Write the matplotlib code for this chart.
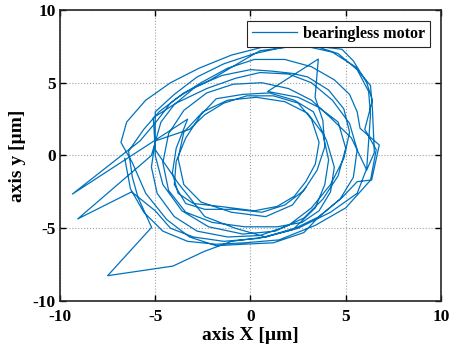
import matplotlib.pyplot as plt

# orbit of the rotor centre (um)
x_um = [
    -6.6, -6.3, -5.6, -4.6, -3.3, -1.8, -0.3, 1.5, 3.4, 5.0, 6.3, 6.6, 6.0, 6.4, 6.1, 5.4, 4.8, 3.5, 2.2, 0.5, -0.3, -2.1, -3.5, -4.2, -4.9, -5.8,
    -9.35, -3.3,
    -3.9, -4.1, -3.8, -3.0, -1.6, 0.2, 1.4, 2.3, 2.9, 3.4, 3.6, 3.2, 2.5, 1.2, -0.2, -1.4, -2.4, -3.2,
    -5.0, -5.2, -4.9, -4.0, -2.8, -1.2, 0.5, 2.0, 3.2, 4.2, 4.9, 5.2, 4.9, 4.1, 3.0, 2.15, 1.1, 0.0, -1.5, -2.9, -4.0, -4.7,
    -5.2, -9.07, -6.24,
    -5.0, -4.2, -3.0, -1.4, 0.4, 2.2, 3.6, 4.8, 5.6, 6.36, 6.76, 5.75, 5.6, 5.2, 4.4, 3.2, 1.8, 0.2, -1.2, -2.6, -3.8, -4.8, -5.6,
    -6.4, -6.2, -5.9, -5.19, -7.5, -4.07, -2.44, -1.0, 0.8, 2.5, 4.2, 5.6, 6.1, 6.2, 6.3, 6.2, 5.6, 4.6, 3.2, 1.6, 0.2, -1.4, -2.8, -4.0, -5.0,
    -5.0, -4.6, -3.6, -2.2, -0.4, 1.3, 2.8, 3.8, 4.6, 5.0, 4.6, 3.6, 2.5, 0.9, 3.56, 3.39,
    3.8, 3.9, 3.5, 2.8, 1.8, 0.6, -0.8, -2.4, -3.4, -4.0, -3.9, -3.4, -2.6, -1.8, -0.4, 1.0, 2.3, 3.3,
    4.0, 4.4, 4.2, 3.6, 2.7, 1.4, -0.3, -2.0, -3.4, -4.3, -4.6, -4.3, -3.5, -2.3, -0.9, 0.6, 2.0, 3.2,
    4.2, 5.3, 6.1, 6.5, 6.4, 6.3, 5.5, 4.3, 2.6, 0.8, -1.0, -2.7, -4.2, -5.5, -6.5, -6.8, -6.2, -5.5, -4.4, -3.2, -1.8, -0.4, 1.2, 2.8,
    3.6, 4.7, 5.4, 5.6, 5.2, 4.3, 3.2, 2.0, 0.5, -0.8, -2.3, -3.9, -5.1, -5.0, -3.8, -2.4, -0.8, 0.8, 2.3,
    3.4, 3.9, 4.1, 3.8, 3.0, 1.8, 0.3, -1.2, -2.5, -3.5, -3.8, -3.5, -2.6, -1.0, 0.8, 2.2, 2.9,
]
y_um = [
    -0.2, -2.3, -3.9, -5.2, -5.9, -6.1, -6.0, -5.8, -4.8, -3.6, -1.7, 0.4, 1.8, 3.8, 5.0, 6.5, 7.3, 7.5, 7.5, 7.2, 6.6, 5.2, 4.3, 3.6, 2.4, 1.0,
    -2.65, 2.5,
    0.5, -1.2, -2.6, -3.3, -3.5, -3.8, -3.5, -2.8, -1.8, -0.6, 0.9, 2.5, 3.6, 4.1, 4.1, 3.6, 2.8, 1.8,
    1.0, -0.8, -2.6, -4.2, -5.2, -5.6, -5.5, -4.8, -3.6, -2.0, -0.2, 1.6, 3.2, 4.5, 5.4, 5.65, 5.8, 5.9, 5.5, 4.7, 3.5, 2.3,
    0.0, -4.36, -2.5,
    -3.8, -5.0, -5.6, -5.9, -5.7, -5.1, -4.2, -2.9, -1.8, -1.68, 0.72, 1.87, 3.0, 4.2, 5.2, 6.1, 6.6, 6.6, 6.0, 5.0, 4.0, 3.0, 1.8,
    0.3, -1.5, -2.9, -4.94, -8.26, -7.6, -6.6, -5.9, -5.6, -5.0, -3.9, -2.6, -0.9, 1.0, 2.8, 4.4, 5.9, 7.0, 7.6, 7.4, 7.0, 6.3, 5.4, 4.2, 3.0,
    0.0, -2.0, -3.8, -4.9, -5.4, -5.2, -4.3, -3.0, -1.4, 0.5, 2.3, 3.3, 4.0, 4.4, 6.63, 4.0,
    2.4, 0.6, -1.0, -2.4, -3.4, -3.9, -3.7, -3.7, -3.3, -2.0, -0.4, 1.2, 2.8, 3.9, 4.2, 4.3, 3.8, 3.0,
    1.0, -0.8, -2.5, -3.8, -4.6, -4.9, -4.9, -4.6, -3.9, -2.4, -0.5, 1.5, 3.1, 4.3, 4.9, 5.0, 4.6, 3.8,
    2.6, 1.2, -1.0, 0.2, 3.2, 4.8, 6.1, 7.1, 7.6, 7.5, 6.9, 6.0, 5.0, 3.8, 2.3, 0.9, -0.5, -2.6, -4.4, -5.6, -6.2, -6.1, -6.0, -5.3,
    -4.2, -3.0, -1.5, 0.4, 2.2, 3.8, 5.0, 5.6, 5.7, 5.3, 4.6, 3.6, 2.6, 0.4, -1.9, -4.2, -5.0, -5.6, -5.0,
    -3.6, -2.0, -0.3, 1.5, 2.9, 3.7, 4.0, 3.8, 3.0, 1.6, -0.2, -2.0, -3.2, -3.9, -4.2, -3.4, -2.2,
]

x_ticks = [-10, -5, 0, 5, 10]
y_ticks = [-10, -5, 0, 5, 10]

plt.rcParams['font.family'] = 'Liberation Serif'
plt.rcParams['font.weight'] = 'bold'
plt.rcParams['axes.unicode_minus'] = False

fig = plt.figure(figsize=(4.5, 3.54), dpi=100)
ax = fig.add_axes([0.1333, 0.1497, 0.8467, 0.8221])
ax.plot(x_um, y_um, color='#0072BD', linewidth=0.9, label='bearingless motor')

ax.set_xlim(-10, 10)
ax.set_ylim(-10, 10)
ax.set_xticks(x_ticks)
ax.set_yticks(y_ticks)
ax.tick_params(direction='in', top=True, right=True, length=4, width=1.0,
               labelsize=12.5)
ax.tick_params(axis='x', pad=6)
ax.tick_params(axis='y', pad=3)
for lab in ax.get_xticklabels() + ax.get_yticklabels():
    lab.set_fontweight('bold')
for s in ax.spines.values():
    s.set_linewidth(1.2)
    s.set_color('#262626')
ax.grid(True, linestyle=':', color='#a0a0a0', linewidth=0.8)

ax.set_xlabel('axis X [µm]', fontsize=14, fontweight='bold', labelpad=1)
ax.set_ylabel('axis y [µm]', fontsize=14, fontweight='bold', labelpad=5)

leg = ax.legend(loc='upper right', fontsize=11.5, fancybox=False, framealpha=1,
                edgecolor='#262626', borderpad=0.3, handlelength=2.8,
                handletextpad=0.4, borderaxespad=0.7)
leg.get_frame().set_linewidth(0.8)
for t in leg.get_texts():
    t.set_fontweight('bold')

fig.savefig('out.png', dpi=100)
